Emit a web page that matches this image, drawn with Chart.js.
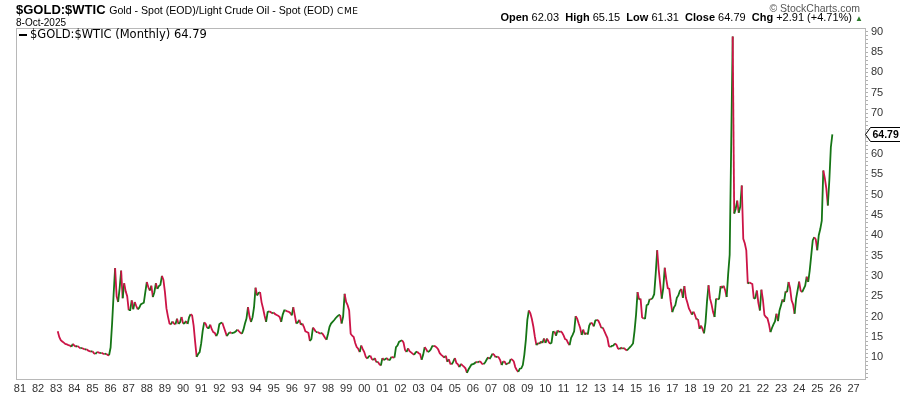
<!DOCTYPE html>
<html>
<head>
<meta charset="utf-8">
<script src="https://cdn.jsdelivr.net/npm/chart.js@4.4.1/dist/chart.umd.min.js"></script>
<style>
    body { margin: 0; background: #fff; }
    #wrap { position: relative; width: 900px; height: 396px; font-family: "Liberation Sans", Arial, sans-serif; color: #000; }
    #wrap canvas { position: absolute; left: 0; top: 0; }
    .txt { position: absolute; white-space: nowrap; line-height: 1; }
    #symbol { left: 16px; top: 3px; font-size: 13px; font-weight: bold; }
    #symbol span { font-weight: normal; font-size: 10.6px; }
    #symbol .cme { font-family: "DejaVu Sans", sans-serif; font-size: 9px; letter-spacing: 0.5px; }
    #date { left: 16px; top: 18px; font-size: 10px; }
    #legend { left: 19px; top: 29px; font-family: "DejaVu Sans", sans-serif; font-size: 11.5px; }
    #legend i { display: inline-block; width: 8px; height: 2px; background: #000; vertical-align: middle; margin-right: 3px; }
    #brand { right: 40px; top: 3px; font-size: 10.5px; color: #555; }
    #quote { right: 37px; top: 12px; font-size: 11px; }
    #quote b { font-weight: bold; }
    #quote .up { color: #2a7a2a; font-size: 8px; }
</style>
</head>
<body>
<div id="wrap">
    <canvas id="ratioChart" width="900" height="396"></canvas>
    <div class="txt" id="symbol">$GOLD:$WTIC <span>Gold - Spot (EOD)/Light Crude Oil - Spot (EOD)</span> <span class="cme">CME</span></div>
    <div class="txt" id="date">8-Oct-2025</div>
    <div class="txt" id="legend"><i></i>$GOLD:$WTIC (Monthly) 64.79</div>
    <div class="txt" id="brand">&copy; StockCharts.com</div>
    <div class="txt" id="quote"><b>Open</b> 62.03&nbsp; <b>High</b> 65.15&nbsp; <b>Low</b> 61.31&nbsp; <b>Close</b> 64.79&nbsp; <b>Chg</b> +2.91 (+4.71%) <span class="up">&#9650;</span></div>
</div>
<script>
// Gold / WTI ratio, monthly closes (Jan 1983 -> Oct 2025)
const startYear = 1983;

const ratio1980s = [
    16.4, 15.0, 14.2, 13.9, 13.6, 13.3, 13.2, 13.0, 12.9, 12.6, 13.3, 12.9, // 1983
    12.6, 12.8, 12.5, 12.2, 12.3, 12.1, 11.9, 12.0, 11.7, 11.5, 11.4, 11.5, // 1984
    11.0, 10.8, 11.3, 11.2, 11.0, 11.1, 10.9, 10.8, 10.9, 10.6, 10.5, 12.4, // 1985
    18.3, 25.4, 31.9, 25.0, 23.6, 27.0, 31.3, 24.5, 28.2, 26.2, 25.0, 21.6, // 1986
    21.6, 24.0, 21.8, 23.6, 22.6, 21.8, 22.2, 23.0, 23.2, 23.4, 26.0, 28.5, // 1987
    27.2, 26.4, 27.6, 24.8, 26.0, 28.2, 26.8, 27.5, 27.8, 30.0, 29.0, 26.0, // 1988
    22.0, 20.0, 18.3, 18.1, 18.8, 18.3, 18.1, 19.5, 18.2, 18.6, 19.9, 18.3  // 1989
];

const ratio1990s = [
    18.4, 18.9, 18.2, 19.8, 20.6, 20.3, 17.8, 13.8, 10.1, 10.8, 11.3, 13.4, // 1990
    16.5, 18.6, 18.2, 17.2, 17.2, 18.0, 16.9, 16.2, 16.0, 15.2, 16.0, 18.1, // 1991
    18.4, 18.5, 17.4, 16.3, 15.2, 15.8, 16.2, 15.9, 16.0, 16.1, 16.4, 16.8, // 1992
    16.4, 16.0, 15.8, 16.8, 18.3, 19.5, 22.3, 20.0, 18.7, 19.8, 22.3, 27.1, // 1993
    25.2, 25.8, 26.0, 23.5, 22.0, 20.2, 18.7, 21.1, 21.3, 21.1, 20.8, 21.0, // 1994
    20.6, 20.4, 20.2, 19.9, 18.7, 20.5, 21.5, 21.5, 21.3, 21.2, 20.9, 20.3, // 1995
    22.3, 20.3, 18.3, 18.6, 19.2, 18.0, 18.3, 17.5, 16.4, 16.2, 16.0, 14.0, // 1996
    14.5, 17.3, 16.8, 16.2, 16.2, 16.0, 15.8, 16.0, 15.4, 14.8, 14.3, 15.8, // 1997
    17.5, 18.3, 18.7, 19.1, 19.6, 20.0, 20.3, 20.4, 18.3, 20.0, 25.6, 23.6, // 1998
    22.8, 21.5, 15.8, 15.3, 15.0, 13.5, 12.5, 12.1, 11.3, 12.9, 12.0, 11.3  // 1999
];

const ratio2000s = [
    10.1, 9.7, 10.2, 10.4, 9.6, 9.3, 9.8, 8.8, 8.9, 8.3, 8.0, 9.8,         // 2000
    9.3, 9.6, 9.8, 9.3, 9.4, 10.1, 10.0, 9.9, 12.5, 12.9, 13.8, 14.0,       // 2001
    14.2, 13.6, 11.8, 11.3, 12.2, 11.5, 11.2, 10.9, 10.6, 11.2, 11.4, 11.0, // 2002
    10.8, 9.4, 10.6, 12.5, 12.0, 11.3, 11.5, 11.9, 12.7, 12.8, 12.7, 12.4,  // 2003
    11.9, 11.0, 10.6, 10.3, 9.9, 10.4, 8.9, 9.5, 8.4, 8.3, 9.0, 9.8,        // 2004
    8.6, 8.3, 7.6, 8.4, 8.0, 7.7, 7.3, 6.2, 7.0, 7.6, 8.2, 8.3,             // 2005
    8.5, 8.9, 8.7, 9.0, 8.9, 8.4, 8.3, 8.7, 9.4, 10.0, 9.6, 10.2,           // 2006
    10.9, 10.6, 10.0, 10.2, 10.0, 9.3, 8.1, 9.0, 8.9, 8.2, 8.6, 8.5,        // 2007
    9.6, 9.4, 9.0, 7.6, 6.9, 6.4, 7.2, 7.3, 8.1, 10.6, 14.2, 19.2,          // 2008
    21.5, 20.8, 19.4, 17.5, 15.0, 13.0, 13.5, 13.3, 13.9, 13.5, 14.6, 13.5  // 2009
];

const ratio2010s = [
    14.6, 13.9, 13.3, 13.6, 16.2, 16.3, 15.3, 16.6, 16.2, 16.4, 16.1, 15.4, // 2010
    14.5, 14.3, 13.5, 13.0, 14.8, 15.5, 16.4, 20.1, 19.5, 18.3, 17.2, 15.5, // 2011
    16.8, 15.6, 16.0, 15.6, 17.8, 18.5, 18.3, 17.6, 19.0, 19.2, 19.0, 18.2, // 2012
    17.2, 17.3, 16.4, 15.6, 14.8, 12.8, 12.5, 12.8, 12.9, 13.4, 13.1, 12.2, // 2013
    12.0, 12.4, 12.1, 12.3, 11.9, 11.7, 12.1, 12.5, 12.9, 13.4, 16.5, 20.5, // 2014
    26.0, 24.2, 24.4, 19.8, 19.5, 19.6, 22.8, 23.0, 24.3, 24.2, 24.6, 25.5, // 2015
    30.5, 36.3, 31.5, 28.0, 24.4, 27.0, 32.0, 29.2, 27.0, 26.8, 23.6, 21.1, // 2016
    22.2, 22.8, 24.6, 25.2, 26.3, 26.8, 24.6, 27.5, 24.6, 23.4, 22.0, 21.3, // 2017
    20.5, 21.2, 20.4, 19.3, 19.4, 17.0, 17.8, 17.0, 15.9, 18.6, 23.8, 27.7, // 2018
    24.4, 23.0, 21.1, 19.9, 24.4, 24.2, 24.4, 27.5, 27.0, 27.6, 26.5, 24.8  // 2019
];

const ratio2020s = [
    30.5, 35.2, 62.0, 88.8, 45.3, 46.5, 48.5, 45.5, 47.0, 52.2, 39.1, 38.0, // 2020
    36.3, 28.1, 28.4, 28.2, 28.0, 24.4, 24.6, 26.4, 23.4, 21.5, 26.6, 24.2, // 2021
    20.4, 19.9, 19.6, 18.2, 16.2, 17.2, 18.1, 18.8, 20.7, 18.9, 21.5, 22.8, // 2022
    24.2, 23.6, 26.2, 26.0, 28.5, 27.0, 24.0, 23.0, 20.7, 24.4, 26.5, 28.6, // 2023
    26.4, 26.0, 26.8, 27.6, 29.8, 28.5, 31.3, 35.0, 38.7, 39.5, 39.0, 36.3, // 2024
    40.0, 41.5, 43.6, 55.9, 54.0, 51.5, 47.3, 53.5, 61.6, 64.79             // 2025
];

const yearTicks = [];
for (let y = 1981; y <= 2027; y++) yearTicks.push(y);
// small tick every unit on the right axis, labels every 5
const minorTicks = [];
for (let v = 5; v <= 90; v++) minorTicks.push(v);

const upColor = '#157515';
const downColor = '#cc1447';
const axisFont = { family: '"Liberation Sans", Arial, sans-serif', size: 11 };

function buildPoints() {
    const all = ratio1980s.concat(ratio1990s, ratio2000s, ratio2010s, ratio2020s);
    // monthly bars are dated at month end
    return all.map((v, i) => ({ x: startYear + (i + 1) / 12, y: v }));
}

const points = buildPoints();
const lastValue = points[points.length - 1].y;

// frame round the plot + last value tag on the right axis
const framePlugin = {
    id: 'frame',
    beforeDatasetsDraw(chart) {
        const a = chart.chartArea;
        const c = chart.ctx;
        c.save();
        c.strokeStyle = '#b8b8b8';
        c.lineWidth = 1;
        c.strokeRect(a.left + 0.5, a.top + 0.5, a.right - a.left - 1, a.bottom - a.top);
        c.restore();
    },
    afterDraw(chart) {
        const c = chart.ctx;
        const y = Math.round(chart.scales.y.getPixelForValue(lastValue)) + 0.5;
        const x = chart.chartArea.right - 0.5;
        const label = lastValue.toFixed(2);
        c.save();
        c.font = 'bold 10.5px "Liberation Sans", Arial, sans-serif';
        const w = c.measureText(label).width + 4;
        c.beginPath();
        c.moveTo(x, y);
        c.lineTo(x + 5, y - 7);
        c.lineTo(x + 5 + w, y - 7);
        c.lineTo(x + 5 + w, y + 7);
        c.lineTo(x + 5, y + 7);
        c.closePath();
        c.fillStyle = '#fff';
        c.fill();
        c.strokeStyle = '#000';
        c.lineWidth = 1;
        c.stroke();
        c.fillStyle = '#000';
        c.textBaseline = 'middle';
        c.fillText(label, x + 7, y + 0.5);
        c.restore();
    }
};

const ctx = document.getElementById('ratioChart').getContext('2d');
new Chart(ctx, {
    type: 'line',
    data: {
        datasets: [{
            label: '$GOLD:$WTIC (Monthly)',
            data: points,
            borderWidth: 1.8,
            pointRadius: 0,
            tension: 0,
            borderColor: upColor,
            segment: {
                borderColor: c => c.p1.parsed.y >= c.p0.parsed.y ? upColor : downColor
            }
        }]
    },
    options: {
        responsive: false,
        animation: false,
        events: [],
        layout: { padding: { left: 16, top: 28, right: 0, bottom: 0 } },
        plugins: {
            legend: { display: false },
            tooltip: { enabled: false }
        },
        scales: {
            x: {
                type: 'linear',
                min: 1980.78,
                max: 2027.69,
                grid: { display: false, drawTicks: false, tickLength: 0 },
                border: { display: false },
                ticks: {
                    color: '#333',
                    font: axisFont,
                    padding: 3,
                    maxRotation: 0,
                    autoSkip: false,
                    callback: v => String(v % 100).padStart(2, '0')
                },
                afterBuildTicks: s => { s.ticks = yearTicks.map(v => ({ value: v })); },
                afterFit: s => { s.height = 17; }
            },
            y: {
                position: 'right',
                min: 4.67,
                max: 90.9,
                grid: { display: true, drawOnChartArea: false, tickLength: 2, color: '#b0b0b0' },
                border: { display: false },
                ticks: {
                    color: '#333',
                    font: axisFont,
                    padding: 3,
                    autoSkip: false,
                    callback: v => (v % 5 === 0 && v >= 10) ? v : ''
                },
                afterBuildTicks: s => { s.ticks = minorTicks.map(v => ({ value: v })); },
                afterFit: s => { s.width = 34; }
            }
        }
    },
    plugins: [framePlugin]
});
</script>
</body>
</html>
